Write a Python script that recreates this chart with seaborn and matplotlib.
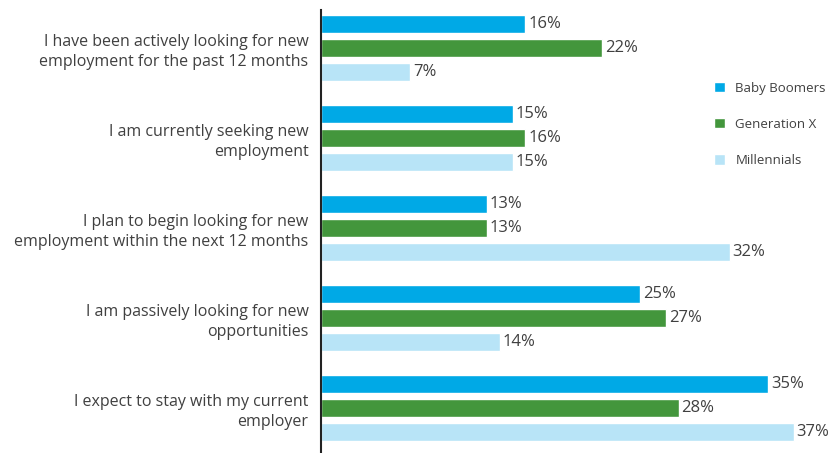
import matplotlib
matplotlib.use("Agg")
import matplotlib.pyplot as plt
import seaborn as sns
import pandas as pd

categories = [
    "I have been actively looking for new\nemployment for the past 12 months",
    "I am currently seeking new\nemployment",
    "I plan to begin looking for new\nemployment within the next 12 months",
    "I am passively looking for new\nopportunities",
    "I expect to stay with my current\nemployer",
]
series = ["Baby Boomers", "Generation X", "Millennials"]
baby_boomers = [16, 15, 13, 25, 35]
generation_x = [22, 16, 13, 27, 28]
millennials = [7, 15, 32, 14, 37]
colors = ["#00A9E6", "#43963C", "#B8E4F7"]

rows = []
for vals, s in zip([baby_boomers, generation_x, millennials], series):
    for c, v in zip(categories, vals):
        rows.append({"category": c, "series": s, "value": v})
df = pd.DataFrame(rows)

sns.set_style("white")
plt.rcParams["font.family"] = ["Open Sans", "DejaVu Sans"]

fig = plt.figure(figsize=(8.38, 4.53), dpi=100)
ax = fig.add_axes([0.383, 0.0, 0.61, 0.978])

sns.barplot(data=df, y="category", x="value", hue="series", order=categories,
            hue_order=series, palette=colors, orient="h", width=0.8, gap=0.25,
            saturation=1, ax=ax, legend=True)

for cont in ax.containers:
    ax.bar_label(cont, labels=[f"{int(v)}%" for v in cont.datavalues],
                 padding=2, fontsize=12, color="#404040")

ax.set_xlim(0, 40)
ax.set_ylim(4.5, -0.42)
ax.set_xlabel("")
ax.set_ylabel("")
ax.set_xticks([])
for s in ["top", "right", "bottom"]:
    ax.spines[s].set_visible(False)
ax.spines["left"].set_color("#222222")
ax.spines["left"].set_linewidth(1.5)
ax.tick_params(axis="y", length=0, pad=9, labelsize=11.5, labelcolor="#404040")
for lab in ax.get_yticklabels():
    lab.set_horizontalalignment("right")
    lab.set_multialignment("right")
    lab.set_linespacing(1.35)

leg = ax.legend(loc="upper left", bbox_to_anchor=(0.745, 0.865), frameon=False,
                fontsize=9.5, handlelength=0.85, handleheight=0.85,
                labelspacing=1.75, handletextpad=0.8)
for t in leg.get_texts():
    t.set_color("#404040")

fig.savefig("out.png", dpi=100)
